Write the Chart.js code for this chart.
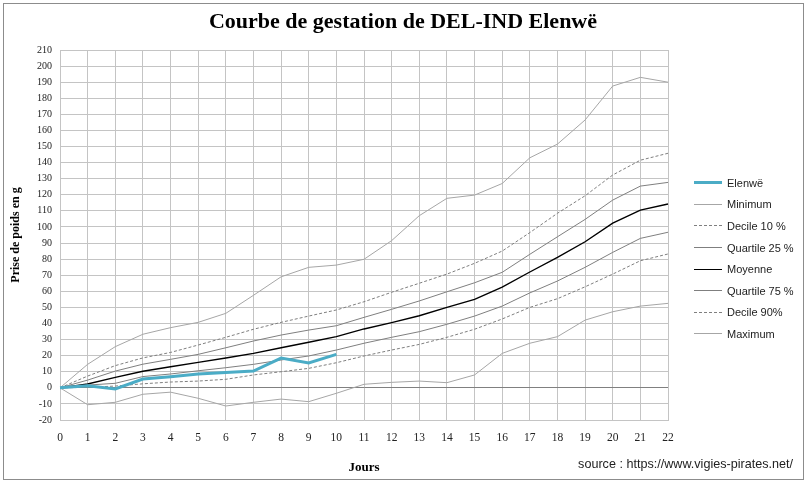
<!DOCTYPE html>
<html>
<head>
<meta charset="utf-8">
<script src="https://cdn.jsdelivr.net/npm/chart.js@4/dist/chart.umd.min.js"></script>
<style>
  html, body { margin: 0; padding: 0; background: #fff; }
  #wrap { position: relative; width: 808px; height: 483px; overflow: hidden; }
  #frame { position: absolute; left: 3px; top: 3px; width: 799px; height: 475px; border: 1px solid #8c8c8c; }
  #chart { position: absolute; left: 0; top: 0; }
  #title { position: absolute; left: 0; width: 806px; top: 8px; text-align: center;
    font: bold 22px "Liberation Serif", serif; color: #000; }
  #legend { position: absolute; left: 694px; top: 172px; font: 11px "Liberation Sans", sans-serif; color: #222; }
  .item { height: 21.6px; display: flex; align-items: center; }
  .item i { display: inline-block; width: 28px; height: 0; margin-right: 5px; }
  #source { position: absolute; right: 15px; top: 457px; font: 12.6px "Liberation Sans", sans-serif; color: #222; }
</style>
</head>
<body>
<div id="wrap">
  <div id="frame"></div>
  <canvas id="chart" width="808" height="483"></canvas>
  <div id="title">Courbe de gestation de DEL-IND Elenwë</div>
  <div id="legend"></div>
  <div id="source">source : https://www.vigies-pirates.net/</div>
</div>
<script>
const days = ['0', '1', '2', '3', '4', '5', '6', '7', '8', '9', '10', '11', '12', '13', '14', '15', '16', '17', '18', '19', '20', '21', '22']

const elenwe = [0, 1.3, -0.7, 5.5, 6.9, 8.6, 9.6, 10.4, 18.5, 15.4, 20.8]
const minimum = [0, -10.5, -9, -4, -2.7, -6.5, -11.3, -9, -7, -8.6, -3.4, 2.2, 3.4, 4.2, 3.2, 8, 21.4, 27.7, 31.8, 42.1, 47.3, 50.8, 52.5]
const decile10 = [0, 0.3, 1.1, 2.5, 3.6, 4.2, 5.3, 8, 10, 12.1, 15.6, 19.8, 23.5, 27, 31.4, 36.4, 42.8, 50, 55.4, 62.8, 70.7, 79, 83.2]
const quartile25 = [0, 1.7, 2.8, 7, 8.6, 10.6, 12.5, 14.6, 17.3, 19.8, 23.5, 27.7, 31.4, 34.9, 39.5, 44.6, 50.8, 59, 66.4, 74.9, 84.2, 92.9, 96.7]
const moyenne = [0, 2.4, 6.5, 10.3, 13.1, 15.8, 18.5, 21.4, 24.9, 28.3, 31.8, 36.6, 40.5, 44.8, 50, 55, 62.6, 72, 81.1, 90.8, 102.4, 110.5, 114.3]
const quartile75 = [0, 4.8, 10.4, 14.7, 17.7, 20.8, 24.9, 29.1, 32.8, 35.9, 38.6, 43.8, 48.8, 54, 59.7, 65.3, 71.8, 83, 93.9, 104.7, 116.7, 125.4, 127.7]
const decile90 = [0, 7.3, 13.8, 18.6, 22, 26.6, 31.4, 36.4, 40.7, 44.6, 48.4, 53.5, 59.4, 65, 70.7, 77.4, 85, 96.5, 108.5, 119.4, 132.3, 141.5, 145.8]
const maximum = [0, 14.6, 25.6, 33.3, 37.4, 40.7, 46.3, 57.5, 69, 74.9, 76.3, 79.9, 91.5, 107, 117.8, 119.8, 127, 143, 151.5, 166.5, 187.6, 193, 190]

const gridColor = '#c4c4c4'
const serif = '"Liberation Serif", serif'

function line (label, data, color, width, dash) {
  return {
    label: label,
    data: data,
    borderColor: color,
    borderWidth: width,
    borderDash: dash || [],
    pointRadius: 0,
    tension: 0,
    fill: false
  }
}

const datasets = [
  line('Elenwë', elenwe, '#4bacc6', 3),
  line('Minimum', minimum, '#a6a6a6', 1),
  line('Decile 10 %', decile10, '#7f7f7f', 1, [3, 2]),
  line('Quartile 25 %', quartile25, '#7f7f7f', 1),
  line('Moyenne', moyenne, '#000000', 1.4),
  line('Quartile 75 %', quartile75, '#7f7f7f', 1),
  line('Decile 90%', decile90, '#7f7f7f', 1, [3, 2]),
  line('Maximum', maximum, '#a6a6a6', 1)
]

const ctx = document.getElementById('chart').getContext('2d')
new Chart(ctx, {
  type: 'line',
  data: { labels: days, datasets: datasets },
  options: {
    responsive: false,
    animation: false,
    layout: { padding: { top: 50, right: 140, bottom: 0, left: 0 } },
    plugins: {
      legend: { display: false },
      tooltip: { enabled: false }
    },
    scales: {
      x: {
        offset: false,
        grid: { color: gridColor, drawTicks: false },
        border: { color: gridColor },
        ticks: { padding: 11, color: '#222', font: { family: serif, size: 11.5 }, maxRotation: 0, autoSkip: false },
        title: { display: true, text: 'Jours', color: '#000', font: { family: serif, size: 13, weight: 'bold' }, padding: { top: 0, bottom: 8 } },
        afterFit: (scale) => { scale.height = 63 }
      },
      y: {
        min: -20,
        max: 210,
        grid: {
          color: (c) => c.tick && c.tick.value === 0 ? '#808080' : gridColor,
          drawTicks: false
        },
        border: { color: gridColor },
        ticks: { stepSize: 10, autoSkip: false, padding: 8, color: '#222', font: { family: serif, size: 10 } },
        title: { display: true, text: 'Prise de poids en g', color: '#000', font: { family: serif, size: 12, weight: 'bold' }, padding: { top: 9, bottom: 0 } },
        afterFit: (scale) => { scale.width = 60 }
      }
    }
  }
})

// legend built from the datasets
const legend = document.getElementById('legend')
datasets.forEach((ds) => {
  const row = document.createElement('div')
  row.className = 'item'
  const sample = document.createElement('i')
  sample.style.borderTop = ds.borderWidth + 'px ' + (ds.borderDash.length ? 'dashed ' : 'solid ') + ds.borderColor
  row.appendChild(sample)
  row.appendChild(document.createTextNode(ds.label))
  legend.appendChild(row)
})
</script>
</body>
</html>
